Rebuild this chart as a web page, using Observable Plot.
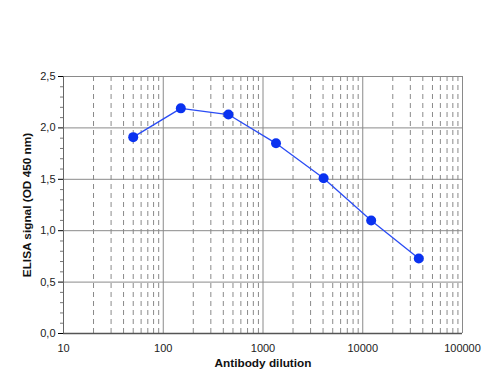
<!DOCTYPE html>
<html><head><meta charset="utf-8">
<script src="https://cdn.jsdelivr.net/npm/d3@7"></script>
<script src="https://cdn.jsdelivr.net/npm/@observablehq/plot@0.6"></script>
<style>
body{margin:0;background:#fff;}
svg{font-family:"Liberation Sans",Arial,sans-serif;}
g[aria-label="x-axis tick label"] text, g[aria-label="y-axis tick label"] text{fill:#222;}
</style>
</head><body>
<div id="chart"></div>
<script>
const dilution = [50, 150, 450, 1350, 4050, 12150, 36450];
const signal = [1.91, 2.19, 2.13, 1.85, 1.51, 1.10, 0.73];
const xTicks = [10, 100, 1000, 10000, 100000];
const yTicks = [0, 0.5, 1.0, 1.5, 2.0, 2.5];
const minorMultiples = [2, 3, 4, 5, 6, 7, 8, 9];
const yMinor = [0.1,0.2,0.3,0.4,0.6,0.7,0.8,0.9,1.1,1.2,1.3,1.4,1.6,1.7,1.8,1.9,2.1,2.2,2.3,2.4];
const xLabel = "Antibody dilution";
const yLabel = "ELISA signal (OD 450 nm)";

const data = dilution.map((d, i) => ({dilution: d, signal: signal[i]}));
const xMinor = xTicks.slice(0, -1).flatMap(t => minorMultiples.map(m => t * m));

const chart = Plot.plot({
  width: 500,
  height: 375,
  marginLeft: 63,
  marginRight: 38,
  marginTop: 76,
  marginBottom: 42,
  style: {fontSize: "11px", fontFamily: "Liberation Sans, Arial, sans-serif", background: "#fff"},
  x: {type: "log", domain: [10, 100000]},
  y: {domain: [0, 2.5]},
  marks: [
    Plot.ruleX(xMinor, {stroke: "#8a8a8a", strokeDasharray: "5,4", strokeWidth: 1}),
    Plot.ruleX(xTicks, {stroke: "#8a8a8a", strokeWidth: 1}),
    Plot.ruleY(yTicks, {stroke: "#8a8a8a", strokeWidth: 1}),
    Plot.ruleX([10], {stroke: "#666", strokeWidth: 1}),
    Plot.ruleY([0], {stroke: "#555", strokeWidth: 1.5}),
    Plot.axisY(yMinor, {tickSize: 3, tickFormat: () => "", stroke: "#777", label: null}),
    Plot.axisX({ticks: xTicks, tickFormat: d => String(d), tickSize: 0, tickPadding: 11, label: null}),
    Plot.axisY({ticks: yTicks, tickFormat: d => d.toFixed(1).replace(".", ","), tickSize: 5, tickPadding: 3, label: null}),
    Plot.text([xLabel], {frameAnchor: "bottom", dy: 33, text: d => d, textAnchor: "middle", fontWeight: "bold", fontSize: 11.8, fill: "#111"}),
    Plot.text([yLabel], {frameAnchor: "left", dx: -36, rotate: -90, text: d => d, textAnchor: "middle", fontWeight: "bold", fontSize: 11.8, fill: "#111"}),
    Plot.line(data, {x: "dilution", y: "signal", stroke: "#2a4cf5", strokeWidth: 1.3}),
    Plot.dot(data, {x: "dilution", y: "signal", fill: "#0a32f0", r: 5, stroke: "none"})
  ]
});
document.getElementById("chart").appendChild(chart);
</script>
</body></html>
